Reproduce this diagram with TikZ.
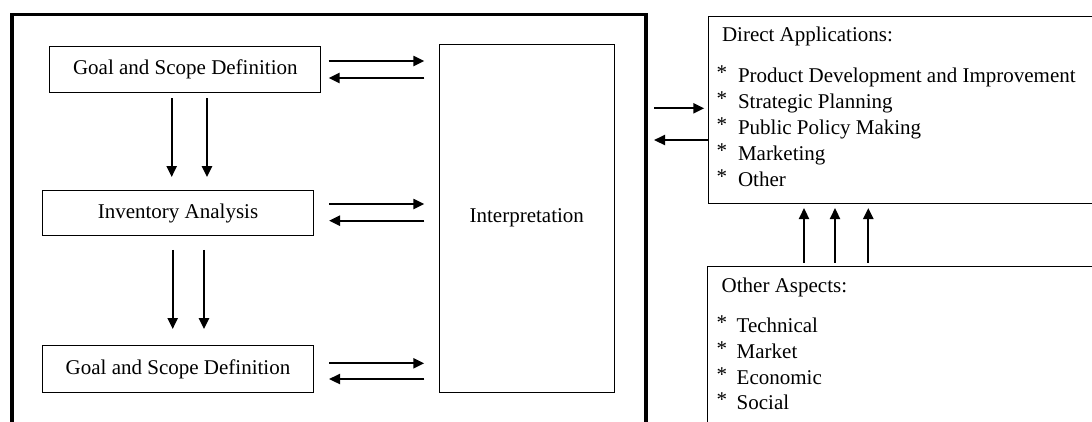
\documentclass[tikz,border=0pt]{standalone}
\usepackage{fontspec}
\setmainfont{Liberation Serif}
\usetikzlibrary{arrows.meta,calc}
\newcommand{\rast}{\raisebox{3bp}{*}}
\begin{document}
\begin{tikzpicture}[x=1bp,y=-1bp,
  box/.style={draw=black,line width=1bp,inner sep=0,outer sep=0,rectangle},
  arr/.style={line width=2.3bp,-{Triangle[length=11bp,width=10bp]}},
  txt/.style={anchor=base west,inner sep=0,outer sep=0},
  font=\fontsize{21bp}{25bp}\selectfont]
\useasboundingbox (0,0) rectangle (1092,421);
\clip (0,0) rectangle (1092,421);
\node[draw=black,line width=3.5bp,inner sep=0,outer sep=0,minimum width=634bp,minimum height=450bp,anchor=north west] (outer) at (12,14.3) {};
\node[box,minimum width=270.7bp,minimum height=46bp] (b1) at (185.3,69) {Goal and Scope Definition};
\node[box,minimum width=270bp,minimum height=44.3bp] (b2) at (178,213) {Inventory Analysis};
\node[box,minimum width=270bp,minimum height=47.3bp] (b3) at (178,369.3) {Goal and Scope Definition};
\node[box,minimum width=175bp,minimum height=348bp] (interp) at (526.8,218) {Interpretation};
\node[box,minimum width=400bp,minimum height=187.3bp,anchor=north west] (da) at (708.3,16) {};
\node[box,minimum width=400bp,minimum height=200bp,anchor=north west] (oa) at (707.3,266) {};
% horizontal arrows left block <-> interpretation
\draw[arr] ($(b1.east)+(8,-8)$) -- ($(b1.east -| interp.west)+(-15,-8)$);
\draw[arr] ($(b1.east -| interp.west)+(-15,9)$) -- ($(b1.east)+(8,9)$);
\draw[arr] ($(b2.east)+(16,-9)$) -- ($(b2.east -| interp.west)+(-15,-9)$);
\draw[arr] ($(b2.east -| interp.west)+(-15,7.7)$) -- ($(b2.east)+(16,7.7)$);
\draw[arr] ($(b3.east)+(16,-6)$) -- ($(b3.east -| interp.west)+(-15,-6)$);
\draw[arr] ($(b3.east -| interp.west)+(-15,9.7)$) -- ($(b3.east)+(16,9.7)$);
% down arrows
\draw[arr] ($(b1.south)+(-13.6,6)$) -- ($(b1.south |- b2.north)+(-13.6,-13.8)$);
\draw[arr] ($(b1.south)+(21.7,6)$) -- ($(b1.south |- b2.north)+(21.7,-13.8)$);
\draw[arr] ($(b2.south)+(-5.3,14.8)$) -- ($(b2.south |- b3.north)+(-5.3,-16.6)$);
\draw[arr] ($(b2.south)+(26,14.8)$) -- ($(b2.south |- b3.north)+(26,-16.6)$);
% outer <-> direct applications
\draw[arr] ($(outer.north east)+(8,94)$) -- ($(outer.north east -| da.west)+(-4,94)$);
\draw[arr] ($(outer.north east -| da.west)+(0,125.7)$) -- ($(outer.north east)+(8,125.7)$);
% up arrows
\draw[arr] ($(oa.north west)+(96.7,-3.3)$) -- ($(oa.north west |- da.south)+(96.7,4.7)$);
\draw[arr] ($(oa.north west)+(127.7,-3.3)$) -- ($(oa.north west |- da.south)+(127.7,4.7)$);
\draw[arr] ($(oa.north west)+(161,-3.3)$) -- ($(oa.north west |- da.south)+(161,4.7)$);
% Direct applications text
\node[txt] (dat) at ($(da.north west)+(13.7,25.7)$) {Direct Applications:};
\node[txt] (das1) at ($(da.north west)+(8.3,66.7)$) {\rast};
\node[txt] (dai1) at ($(da.north west)+(29.7,66.7)$) {Product Development and Improvement};
\node[txt] (das2) at ($(da.north west)+(8.3,92.5)$) {\rast};
\node[txt] (dai2) at ($(da.north west)+(29.7,92.5)$) {Strategic Planning};
\node[txt] (das3) at ($(da.north west)+(8.3,118.3)$) {\rast};
\node[txt] (dai3) at ($(da.north west)+(29.7,118.3)$) {Public Policy Making};
\node[txt] (das4) at ($(da.north west)+(8.3,144)$) {\rast};
\node[txt] (dai4) at ($(da.north west)+(29.7,144)$) {Marketing};
\node[txt] (das5) at ($(da.north west)+(8.3,170)$) {\rast};
\node[txt] (dai5) at ($(da.north west)+(29.7,170)$) {Other};
% Other aspects text
\node[txt] (oat) at ($(oa.north west)+(14.4,26.3)$) {Other Aspects:};
\node[txt] (oas1) at ($(oa.north west)+(9.4,66.7)$) {\rast};
\node[txt] (oai1) at ($(oa.north west)+(29.4,66.7)$) {Technical};
\node[txt] (oas2) at ($(oa.north west)+(9.4,92.4)$) {\rast};
\node[txt] (oai2) at ($(oa.north west)+(29.4,92.4)$) {Market};
\node[txt] (oas3) at ($(oa.north west)+(9.4,118)$) {\rast};
\node[txt] (oai3) at ($(oa.north west)+(29.4,118)$) {Economic};
\node[txt] (oas4) at ($(oa.north west)+(9.4,143.7)$) {\rast};
\node[txt] (oai4) at ($(oa.north west)+(29.4,143.7)$) {Social};
\end{tikzpicture}
\end{document}
